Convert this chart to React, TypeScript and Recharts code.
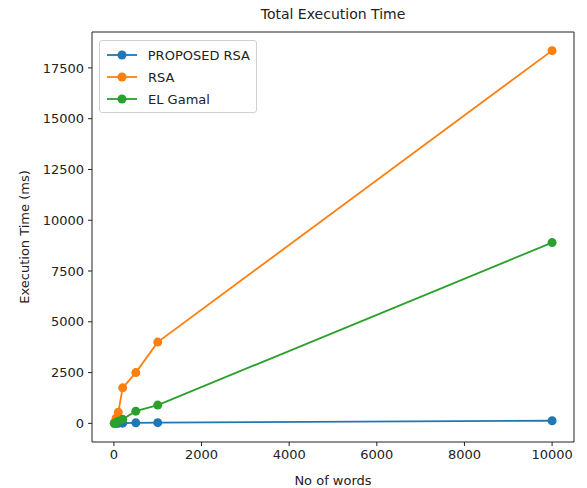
import React from 'react';
import { LineChart, Line, XAxis, YAxis, ReferenceArea } from 'recharts';

const words = [10, 50, 100, 200, 500, 1000, 10000];
const proposedRsa = [1, 3, 5, 10, 25, 35, 130];
const rsa = [20, 250, 550, 1750, 2500, 4000, 18350];
const elGamal = [5, 40, 100, 200, 600, 900, 8900];

const xTicks = [0, 2000, 4000, 6000, 8000, 10000];
const yTicks = [0, 2500, 5000, 7500, 10000, 12500, 15000, 17500];

const series = [
  { key: 'proposed', name: 'PROPOSED RSA', color: '#1f77b4' },
  { key: 'rsa', name: 'RSA', color: '#ff7f0e' },
  { key: 'elgamal', name: 'EL Gamal', color: '#2ca02c' },
];

const data = words.map((w, i) => ({
  words: w,
  proposed: proposedRsa[i],
  rsa: rsa[i],
  elgamal: elGamal[i],
}));

const font = 'DejaVu Sans, sans-serif';

const LegendBox = () => (
  <div
    style={{
      position: 'absolute',
      left: 99,
      top: 40,
      boxSizing: 'border-box',
      width: 158,
      height: 73,
      border: '1px solid #d0d0d0',
      borderRadius: 3,
      background: '#fff',
      padding: '3px 6px',
      fontFamily: font,
      fontSize: 13,
      color: '#222',
      whiteSpace: 'nowrap',
    }}
  >
    {series.map((s) => (
      <div key={s.key} style={{ display: 'flex', alignItems: 'center', height: 22 }}>
        <svg width={32} height={12} style={{ marginRight: 10 }}>
          <line x1={1} y1={6} x2={31} y2={6} stroke={s.color} strokeWidth={1.8} />
          <circle cx={16} cy={6} r={4.5} fill={s.color} />
        </svg>
        <span>{s.name}</span>
      </div>
    ))}
  </div>
);

export default function App() {
  return (
    <div style={{ position: 'absolute', left: 0, top: 0, width: 587, height: 488, background: '#fff' }}>
      <div
        style={{
          position: 'absolute',
          top: 6,
          left: 92,
          width: 482,
          textAlign: 'center',
          fontFamily: font,
          fontSize: 14,
          color: '#222',
        }}
      >
        Total Execution Time
      </div>
      <LineChart
        width={587}
        height={488}
        data={data}
        margin={{ top: 32, right: 13, bottom: 0, left: 0 }}
        style={{ fontFamily: font }}
      >
        <ReferenceArea
          x1={-500}
          x2={10500}
          y1={-917}
          y2={19267}
          stroke="#222"
          strokeWidth={1}
          fill="none"
          fillOpacity={0}
          ifOverflow="visible"
        />
        <XAxis
          dataKey="words"
          type="number"
          domain={[-500, 10500]}
          ticks={xTicks}
          allowDataOverflow
          height={46}
          tickSize={4}
          tickMargin={4}
          axisLine={false}
          tickLine={{ stroke: '#222' }}
          tick={{ fill: '#222', fontSize: 13 }}
          label={{ value: 'No of words', position: 'insideBottom', offset: 3, fill: '#222', fontSize: 13 }}
        />
        <YAxis
          type="number"
          domain={[-917, 19267]}
          ticks={yTicks}
          allowDataOverflow
          width={92}
          tickSize={4}
          tickMargin={4}
          axisLine={false}
          tickLine={{ stroke: '#222' }}
          tick={{ fill: '#222', fontSize: 13 }}
          label={{
            value: 'Execution Time (ms)',
            angle: -90,
            position: 'insideLeft',
            offset: 24,
            style: { textAnchor: 'middle' },
            fill: '#222',
            fontSize: 13,
          }}
        />
        {series.map((s) => (
          <Line
            key={s.key}
            dataKey={s.key}
            name={s.name}
            stroke={s.color}
            strokeWidth={1.8}
            dot={{ r: 4.5, fill: s.color, stroke: s.color, strokeWidth: 0 }}
            activeDot={false}
            isAnimationActive={false}
          />
        ))}
      </LineChart>
      <LegendBox />
    </div>
  );
}
